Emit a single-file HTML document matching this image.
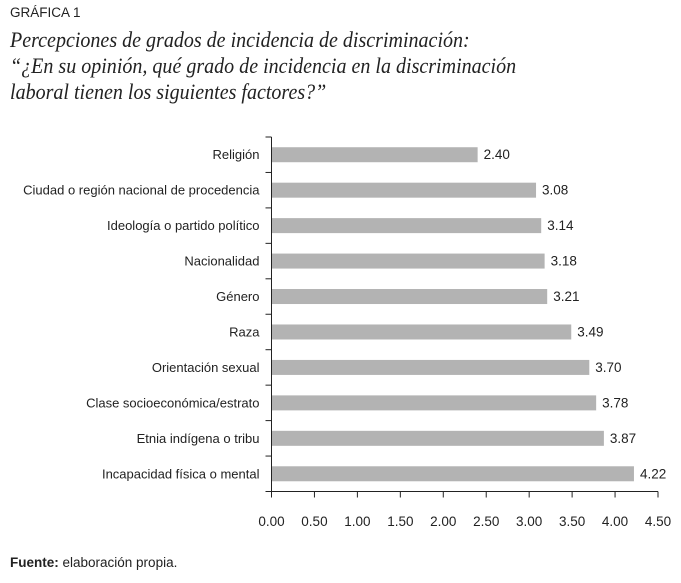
<!DOCTYPE html>
<html><head><meta charset="utf-8"><style>
body{margin:0;background:#fff;width:681px;height:583px;overflow:hidden;font-family:"Liberation Sans",sans-serif;}
#wrap{position:relative;width:681px;height:583px;}
.t{position:absolute;white-space:nowrap;}
</style></head><body><div id="wrap">
<div class="t" style="left:10px;top:5px;font-size:13.5px;color:#222;">GRÁFICA 1</div>
<div class="t" style="left:10px;top:27px;font-family:'Liberation Serif',serif;font-style:italic;font-size:22.5px;line-height:26px;color:#222;transform:scaleX(0.89);transform-origin:0 0;">Percepciones de grados de incidencia de discriminación:<br>“¿En su opinión, qué grado de incidencia en la discriminación<br>laboral tienen los siguientes factores?”</div>
<svg id="ch" width="681" height="583" style="position:absolute;left:0;top:0"></svg>
<div class="t" style="left:10px;top:555px;font-size:13.5px;color:#222;"><b style="font-weight:600">Fuente:</b> elaboración propia.</div>
</div>
<script>
const categories=["Religión","Ciudad o región nacional de procedencia","Ideología o partido político","Nacionalidad","Género","Raza","Orientación sexual","Clase socioeconómica/estrato","Etnia indígena o tribu","Incapacidad física o mental"];
const values=[2.40,3.08,3.14,3.18,3.21,3.49,3.70,3.78,3.87,4.22];
const valueLabels=["2.40","3.08","3.14","3.18","3.21","3.49","3.70","3.78","3.87","4.22"];
const ticks=[0,0.5,1,1.5,2,2.5,3,3.5,4,4.5];
const tickLabels=["0.00","0.50","1.00","1.50","2.00","2.50","3.00","3.50","4.00","4.50"];
const svg=document.getElementById('ch');const NS='http://www.w3.org/2000/svg';
const x0=271.5,x1=658,xmax=4.5,yTop=137,yBot=491.5;
const band=(yBot-yTop)/categories.length;
const X=v=>x0+v/xmax*(x1-x0);
const Y=i=>yTop+band*i+band/2;
function mk(t,a,txt){const e=document.createElementNS(NS,t);for(const k in a)e.setAttribute(k,a[k]);if(txt!=null)e.textContent=txt;svg.appendChild(e);return e;}
categories.forEach((c,i)=>{
 const r=mk('rect',{x:x0,y:Y(i)-7.5,width:X(values[i])-x0,height:15,fill:'#b3b3b3'});
 
 
 const v=mk('text',{x:X(values[i])+6,y:Y(i)+4.5,'font-size':13.5,fill:'#222'},valueLabels[i]);
 
 
 const l=mk('text',{x:x0-12,y:Y(i)+4.5,'font-size':13,fill:'#222','text-anchor':'end'},c);
 
 
});
for(let i=0;i<=categories.length;i++){
 const tk=mk('line',{x1:x0-6,x2:x0,y1:yTop+band*i,y2:yTop+band*i,stroke:'#222','stroke-width':1});
 
 
}
const ya=mk('line',{x1:x0,x2:x0,y1:yTop,y2:yBot,stroke:'#222','stroke-width':1});


const xa=mk('line',{x1:x0,x2:x1,y1:yBot,y2:yBot,stroke:'#222','stroke-width':1});


ticks.forEach((t,i)=>{
 const l=mk('line',{x1:X(t),x2:X(t),y1:yBot,y2:yBot+6,stroke:'#222','stroke-width':1});
 
 
 const tx=mk('text',{x:X(t),y:526,'font-size':13.5,fill:'#222','text-anchor':'middle'},tickLabels[i]);
 
 
});
</script></body></html>
